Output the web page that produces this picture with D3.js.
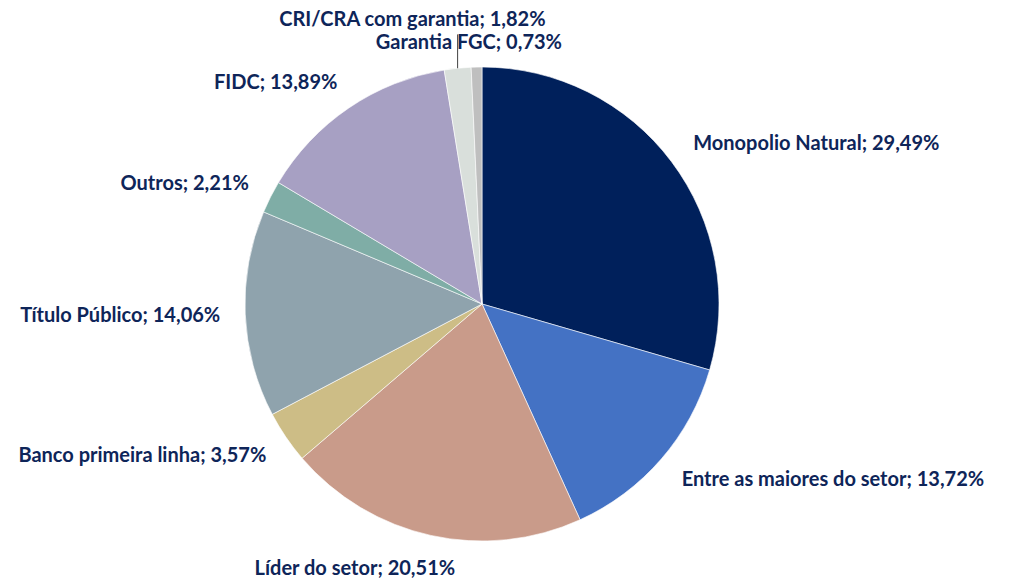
<!DOCTYPE html>
<html lang="en">
<head>
    <meta charset="utf-8">
    <title>Pie chart</title>
    <script src="https://d3js.org/d3.v7.min.js"></script>
    <style>
        body { margin: 0; background: #fff; }
        text { font-family: Lato, "Noto Sans", sans-serif; font-weight: 700; font-size: 20px; fill: #0e2559; }
    </style>
</head>
<body>
<svg id="chart"></svg>
<script>
    // data, clockwise from 12 o'clock
    var categories = ["Monopolio Natural", "Entre as maiores do setor", "Líder do setor",
        "Banco primeira linha", "Título Público", "Outros", "FIDC",
        "CRI/CRA com garantia", "Garantia FGC"];
    var shares = [29.49, 13.72, 20.51, 3.57, 14.06, 2.21, 13.89, 1.82, 0.73];
    var colors = ["#00205b", "#4472c4", "#c99b8a", "#cdbd86", "#8fa3ad", "#7fada6",
        "#a7a0c3", "#d9dfdb", "#bfbfbf"];

    var vWidth = 1014, vHeight = 580;
    var cx = 482, cy = 304, radius = 237, labelR = 268;

    // manual label nudges (Excel moved a few of them)
    var nudges = {
        "Líder do setor": {dx: 31, dy: 2, anchor: "end"},
        "CRI/CRA com garantia": {dx: -42, dy: -18, anchor: "middle"},
        "Garantia FGC": {dx: -7, dy: 6, anchor: "middle"}
    };

    var svg = d3.select('#chart').attr('width', vWidth).attr('height', vHeight);
    var g = svg.append('g').attr('transform', 'translate(' + cx + ',' + cy + ')');

    var data = categories.map(function (c, i) { return {name: c, value: shares[i], color: colors[i]}; });

    var pie = d3.pie().sort(null).value(function (d) { return d.value; });
    var arc = d3.arc().innerRadius(0).outerRadius(radius);
    var arcs = pie(data);

    g.selectAll('path').data(arcs).enter()
        .append('path')
        .attr('d', arc)
        .attr('fill', function (d) { return d.data.color; })
        .attr('stroke', '#ffffff')
        .attr('stroke-width', 0.6);

    function mid(d) { return (d.startAngle + d.endAngle) / 2; }

    // leader line for CRI/CRA
    var cri = arcs[7];
    g.append('line')
        .attr('x1', radius * Math.sin(mid(cri))).attr('y1', -radius * Math.cos(mid(cri)))
        .attr('x2', radius * Math.sin(mid(cri))).attr('y2', -labelR * Math.cos(mid(cri)) - 3)
        .attr('stroke', '#404040').attr('stroke-width', 1);

    g.selectAll('text.lbl').data(arcs).enter()
        .append('text')
        .attr('class', 'lbl')
        .attr('x', function (d) {
            var n = nudges[d.data.name];
            if (n) return labelR * Math.sin(mid(d)) + n.dx;
            var s = Math.sin(mid(d));
            return labelR * s + (s >= 0 ? -3 : 6);
        })
        .attr('y', function (d) {
            var n = nudges[d.data.name] || {dy: 0};
            return -labelR * Math.cos(mid(d)) + n.dy;
        })
        .attr('dy', '0.35em')
        .attr('text-anchor', function (d) {
            var n = nudges[d.data.name];
            if (n) return n.anchor;
            return Math.sin(mid(d)) >= 0 ? 'start' : 'end';
        })
        .text(function (d) { return d.data.name + '; ' + d.data.value.toFixed(2).replace('.', ',') + '%'; });
</script>
</body>
</html>
